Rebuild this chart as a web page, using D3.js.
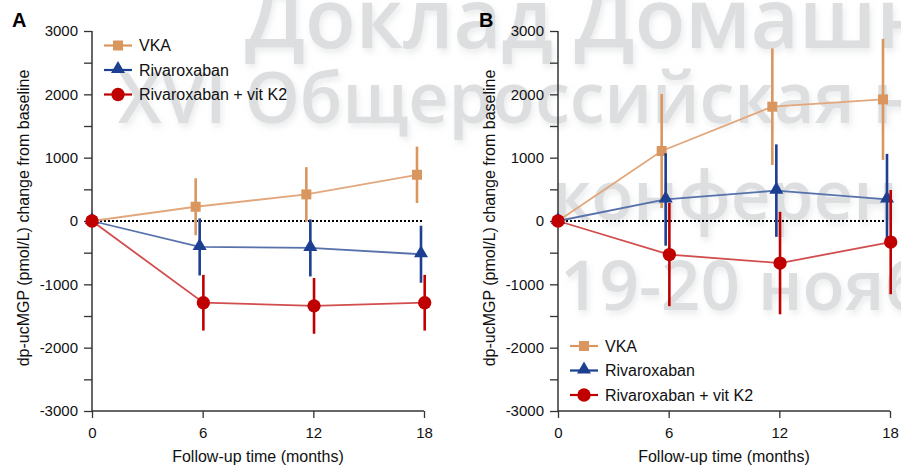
<!DOCTYPE html>
<html>
<head>
<meta charset="utf-8">
<script src="https://cdn.jsdelivr.net/npm/d3@7"></script>
<style>
  body { margin: 0; background: #fff; }
  svg { display: block; font-family: "Liberation Sans", Arial, sans-serif; }
</style>
</head>
<body>
<svg></svg>
<script>
// dp-ucMGP change from baseline, two panels

var months = [0, 6, 12, 18];
var yTickValues = [-3000, -2000, -1000, 0, 1000, 2000, 3000];
var seriesNames = ["VKA", "Rivaroxaban", "Rivaroxaban + vit K2"];

// panel A
var vkaA = [0, 225, 420, 730];
var vkaAErr = [0, 450, 430, 445];
var rivA = [0, -410, -425, -525];
var rivAErr = [0, 450, 450, 450];
var redA = [0, -1290, -1340, -1290];
var redAErr = [0, 440, 440, 440];

// panel B
var vkaB = [0, 1105, 1805, 1920];
var vkaBErr = [0, 900, 920, 955];
var rivB = [0, 340, 480, 340];
var rivBErr = [0, 730, 730, 720];
var redB = [0, -530, -664, -333];
var redBErr = [0, 815, 809, 823];

var watermark = ["Доклад Домашней", "XVI Общероссийская научная", "конференция", "19-20 ноября"];

var svgWidth = 901, svgHeight = 475;

var svg = d3.select("svg")
    .attr("width", svgWidth)
    .attr("height", svgHeight);

// background watermark
var defs = svg.append("defs");
var shadow = defs.append("filter").attr("id", "wmShadow")
    .attr("x", "-10%").attr("y", "-10%").attr("width", "130%").attr("height", "140%");
shadow.append("feDropShadow")
    .attr("dx", 2).attr("dy", 4).attr("stdDeviation", 3)
    .attr("flood-color", "#d6d8da").attr("flood-opacity", 0.5);

var wmPos = [[245, 48, 83], [118, 123, 70], [552, 220, 69], [560, 310, 69]];
svg.append("g").attr("filter", "url(#wmShadow)")
    .selectAll("text")
    .data(watermark)
    .enter()
    .append("text")
    .attr("x", function(d, i) { return wmPos[i][0]; })
    .attr("y", function(d, i) { return wmPos[i][1]; })
    .attr("font-size", function(d, i) { return wmPos[i][2]; })
    .attr("font-family", "'Open Sans', 'Noto Sans', sans-serif")
    .attr("font-weight", 600)
    .attr("fill", "#dcdee0")
    .text(function(d) { return d; });

var colors = {
    marker: ["#d9965f", "#1c3f92", "#c00000"],
    line: ["#e2a77c", "#5772ab", "#d24d4d"]
};
var dodge = [-7, -3, 0.7];

function drawPanel(opts) {
    var x = d3.scaleLinear().domain([0, 18]).range([opts.x0, opts.x0 + 332]);
    var y = d3.scaleLinear().domain([-3000, 3000]).range([411, 31]);
    var g = svg.append("g");

    // y axis, ticks every 500 but labels only on 1000s
    var yAxis = d3.axisLeft(y)
        .tickValues(d3.range(-3000, 3001, 500))
        .tickSize(8)
        .tickPadding(6)
        .tickFormat(function(d) { return yTickValues.indexOf(d) >= 0 ? d : ""; });
    var ya = g.append("g")
        .attr("transform", "translate(" + opts.x0 + ",0)")
        .call(yAxis);

    var xAxis = d3.axisBottom(x)
        .tickValues(months)
        .tickSize(7)
        .tickPadding(9);
    var xa = g.append("g")
        .attr("transform", "translate(0,411)")
        .call(xAxis);

    [ya, xa].forEach(function(a) {
        a.select(".domain").attr("stroke", "#333").attr("stroke-width", 1.5);
        a.selectAll(".tick line").attr("stroke", "#333").attr("stroke-width", 1.3);
        a.selectAll("text").attr("font-size", 15).attr("fill", "#111")
            .attr("font-family", "'Liberation Sans', Arial, sans-serif");
    });
    ya.select(".domain").attr("d", "M0," + y(3000) + "V" + y(-3000));
    xa.select(".domain").attr("d", "M" + x(0) + ",0H" + x(18));

    // zero reference
    g.append("line")
        .attr("x1", x(0)).attr("x2", x(18))
        .attr("y1", y(0)).attr("y2", y(0))
        .attr("stroke", "#000")
        .attr("stroke-width", 2)
        .attr("stroke-dasharray", "2,2");

    // titles
    g.append("text")
        .attr("x", x(9))
        .attr("y", 462)
        .attr("text-anchor", "middle")
        .attr("font-size", 16)
        .attr("fill", "#111")
        .text("Follow-up time (months)");
    g.append("text")
        .attr("transform", "translate(" + (opts.x0 - 63) + ",218) rotate(-90)")
        .attr("text-anchor", "middle")
        .attr("font-size", 16)
        .attr("fill", "#111")
        .text("dp-ucMGP (pmol/L) change from baseline");
    g.append("text")
        .attr("x", opts.labelX)
        .attr("y", 27)
        .attr("font-size", 20)
        .attr("font-weight", "bold")
        .attr("fill", "#000")
        .text(opts.label);

    function px(i, s) {
        return x(months[i]) + (months[i] > 0 ? dodge[s] : 0);
    }

    // connecting lines
    opts.series.forEach(function(vals, s) {
        var line = d3.line()
            .x(function(d, i) { return px(i, s); })
            .y(function(d) { return y(d); });
        g.append("path")
            .datum(vals)
            .attr("d", line)
            .attr("fill", "none")
            .attr("stroke", colors.line[s])
            .attr("stroke-width", 1.8);
    });

    // error bars and markers, red drawn last
    opts.series.forEach(function(vals, s) {
        var errs = opts.errors[s];
        g.selectAll(".err" + s)
            .data(vals.slice(1))
            .enter()
            .append("line")
            .attr("x1", function(d, i) { return px(i + 1, s); })
            .attr("x2", function(d, i) { return px(i + 1, s); })
            .attr("y1", function(d, i) { return y(d + errs[i + 1]); })
            .attr("y2", function(d, i) { return y(d - errs[i + 1]); })
            .attr("stroke", colors.marker[s])
            .attr("stroke-width", 2.6);

        var sym = [d3.symbolSquare, d3.symbolTriangle, d3.symbolCircle][s];
        var size = [100, 85, 140][s];
        g.selectAll(".pt" + s)
            .data(vals)
            .enter()
            .append("path")
            .attr("d", d3.symbol().type(sym).size(size))
            .attr("transform", function(d, i) {
                return "translate(" + px(i, s) + "," + (y(d) - (s == 1 ? 1 : 0)) + ")";
            })
            .attr("fill", colors.marker[s]);
    });

    // legend
    var leg = g.append("g");
    seriesNames.forEach(function(name, s) {
        var ly = opts.legY + s * 24.5;
        leg.append("line")
            .attr("x1", opts.legX).attr("x2", opts.legX + 28)
            .attr("y1", ly).attr("y2", ly)
            .attr("stroke", colors.marker[s])
            .attr("stroke-width", 2.2);
        var sym = [d3.symbolSquare, d3.symbolTriangle, d3.symbolCircle][s];
        var size = [100, 85, 140][s];
        leg.append("path")
            .attr("d", d3.symbol().type(sym).size(size))
            .attr("transform", "translate(" + (opts.legX + 14) + "," + (ly - (s == 1 ? 1 : 0)) + ")")
            .attr("fill", colors.marker[s]);
        leg.append("text")
            .attr("x", opts.legX + 35)
            .attr("y", ly + 5.5)
            .attr("font-size", 16)
            .attr("fill", "#111")
            .text(name);
    });
}

drawPanel({
    x0: 92, label: "A", labelX: 12, legX: 104, legY: 45.5,
    series: [vkaA, rivA, redA],
    errors: [vkaAErr, rivAErr, redAErr]
});

drawPanel({
    x0: 558, label: "B", labelX: 479, legX: 570, legY: 346,
    series: [vkaB, rivB, redB],
    errors: [vkaBErr, rivBErr, redBErr]
});
</script>
</body>
</html>
